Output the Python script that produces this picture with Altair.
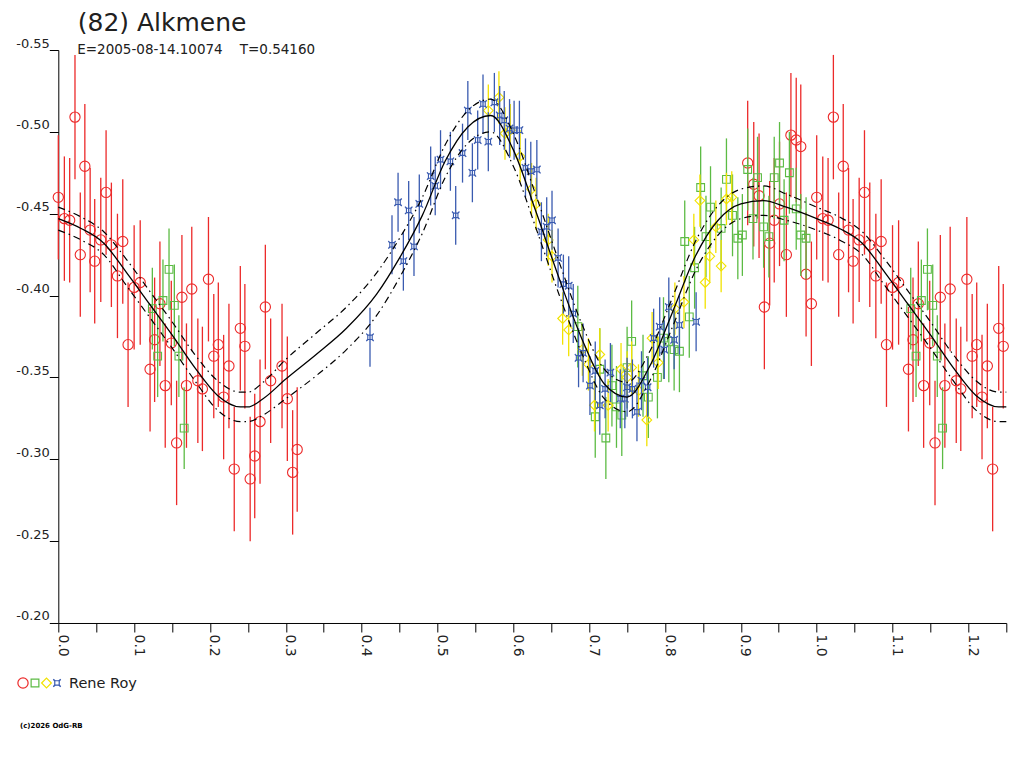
import altair as alt
import pandas as pd

title_text = "(82) Alkmene"
subtitle_text = "E=2005-08-14.10074\u00a0\u00a0\u00a0\u00a0T=0.54160"
observer = "Rene Roy"
credit = "(c)2026 OdG-RB"

x_ticks = [0.0, 0.05, 0.1, 0.15, 0.2, 0.25, 0.3, 0.35, 0.4, 0.45, 0.5, 0.55, 0.6,
           0.65, 0.7, 0.75, 0.8, 0.85, 0.9, 0.95, 1.0, 1.05, 1.1, 1.15, 1.2, 1.25]
y_ticks = [-0.55, -0.50, -0.45, -0.40, -0.35, -0.30, -0.25, -0.20]

# red circles
red_phase = [0.000, 0.008, 0.015, 0.022, 0.029, 0.035, 0.042, 0.048, 0.056, 0.063,
             0.070, 0.078, 0.085, 0.092, 0.100, 0.108, 0.121, 0.127, 0.134, 0.141,
             0.149, 0.156, 0.163, 0.169, 0.176, 0.184, 0.190, 0.198, 0.205, 0.211,
             0.218, 0.225, 0.232, 0.240, 0.246, 0.253, 0.259, 0.266, 0.273, 0.280,
             0.295, 0.302, 0.309, 0.315,
             0.909, 0.917, 0.924, 0.931, 0.938, 0.944, 0.951, 0.960, 0.966, 0.973,
             0.979, 0.986, 0.993]
red_mag = [-0.460, -0.447, -0.446, -0.509, -0.425, -0.479, -0.440, -0.421, -0.434, -0.463,
           -0.431, -0.412, -0.433, -0.370, -0.405, -0.408, -0.355, -0.373, -0.395, -0.345,
           -0.371, -0.310, -0.399, -0.345, -0.404, -0.348, -0.343, -0.410, -0.363, -0.370,
           -0.338, -0.357, -0.294, -0.380, -0.369, -0.288, -0.302, -0.323, -0.393, -0.348,
           -0.357, -0.337, -0.292, -0.306,
           -0.481, -0.468, -0.461, -0.393, -0.432, -0.446, -0.456, -0.425, -0.498, -0.495,
           -0.491, -0.413, -0.395]
red_err = [0.038] * len(red_phase)

# green squares
green_phase = [0.124, 0.131, 0.138, 0.146, 0.153, 0.159, 0.166,
               0.685, 0.708, 0.714, 0.722, 0.730, 0.736, 0.743, 0.750, 0.756, 0.771,
               0.778, 0.790, 0.798, 0.805, 0.812, 0.819, 0.826, 0.832, 0.839, 0.847,
               0.854, 0.860, 0.874, 0.881, 0.889, 0.896, 0.902, 0.909, 0.916, 0.922,
               0.930, 0.937, 0.944, 0.951, 0.957, 0.964, 0.973, 0.979, 0.986]
green_mag = [-0.392, -0.363, -0.397, -0.416, -0.394, -0.363, -0.319,
             -0.381, -0.326, -0.355, -0.313, -0.345, -0.332, -0.327, -0.356, -0.372, -0.351,
             -0.338, -0.350, -0.374, -0.372, -0.367, -0.366, -0.433, -0.387, -0.417, -0.466,
             -0.436, -0.454, -0.441, -0.471, -0.449, -0.435, -0.437, -0.477, -0.447, -0.472,
             -0.442, -0.436, -0.472, -0.481, -0.446, -0.475, -0.453, -0.437, -0.435]
green_err = [0.025] * len(green_phase)

# yellow diamonds
yellow_phase = [0.567, 0.581, 0.589, 0.596, 0.609, 0.624, 0.630, 0.646, 0.651, 0.665,
                0.673, 0.691, 0.699, 0.707, 0.714, 0.725, 0.742, 0.750, 0.756, 0.765,
                0.776, 0.783, 0.791, 0.813, 0.825, 0.838, 0.846, 0.853, 0.859, 0.867,
                0.874, 0.881, 0.888]
yellow_mag = [-0.513, -0.521, -0.499, -0.501, -0.485, -0.465, -0.456, -0.434, -0.424, -0.386,
              -0.379, -0.367, -0.358, -0.333, -0.364, -0.333, -0.355, -0.350, -0.356, -0.342,
              -0.324, -0.374, -0.359, -0.392, -0.396, -0.434, -0.458, -0.408, -0.424, -0.442,
              -0.418, -0.459, -0.460]
yellow_err = [0.016] * len(yellow_phase)

# blue stars
blue_phase = [0.411, 0.440, 0.448, 0.455, 0.462, 0.469, 0.476, 0.491, 0.497, 0.504,
              0.517, 0.524, 0.533, 0.540, 0.546, 0.553, 0.560, 0.567, 0.575, 0.582,
              0.588, 0.595, 0.601, 0.608, 0.616, 0.623, 0.631, 0.637, 0.644, 0.651,
              0.659, 0.666, 0.673, 0.679, 0.686, 0.692, 0.701, 0.708, 0.714, 0.721,
              0.728, 0.741, 0.747, 0.750, 0.757, 0.763, 0.769, 0.777, 0.785, 0.793,
              0.799, 0.805, 0.812, 0.819, 0.841]
blue_mag = [-0.3745, -0.431, -0.457, -0.421, -0.452, -0.430, -0.456, -0.473, -0.467, -0.483,
            -0.482, -0.449, -0.487, -0.513, -0.475, -0.495, -0.517, -0.494, -0.518, -0.510,
            -0.507, -0.502, -0.501, -0.501, -0.478, -0.476, -0.477, -0.439, -0.442, -0.446,
            -0.423, -0.407, -0.406, -0.389, -0.362, -0.365, -0.345, -0.354, -0.333, -0.343,
            -0.353, -0.337, -0.337, -0.344, -0.343, -0.329, -0.348, -0.344, -0.374, -0.381,
            -0.367, -0.393, -0.373, -0.382, -0.384]
blue_err = [0.018] * len(blue_phase)

# fitted curve and its uncertainty band (half-width)
fit_phase = [0.00, 0.03, 0.06, 0.09, 0.12, 0.15, 0.18, 0.21, 0.24, 0.25,
             0.27, 0.30, 0.34, 0.38, 0.42, 0.45, 0.48, 0.51, 0.54, 0.57,
             0.60, 0.63, 0.66, 0.69, 0.72, 0.75, 0.78, 0.81, 0.84, 0.87,
             0.90, 0.93, 0.96]
fit_mag = [-0.447, -0.441, -0.432, -0.414, -0.395, -0.376, -0.356, -0.339, -0.332, -0.332,
           -0.337, -0.349, -0.364, -0.380, -0.401, -0.423, -0.449, -0.482, -0.503, -0.510,
           -0.489, -0.451, -0.411, -0.374, -0.346, -0.338, -0.357, -0.390, -0.424, -0.446,
           -0.456, -0.458, -0.454]
fit_band = [0.007, 0.007, 0.007, 0.008, 0.008, 0.008, 0.008, 0.009, 0.009, 0.009,
            0.010, 0.012, 0.013, 0.013, 0.013, 0.012, 0.011, 0.010, 0.010, 0.010,
            0.010, 0.010, 0.010, 0.009, 0.009, 0.009, 0.009, 0.009, 0.009, 0.009,
            0.009, 0.009, 0.008]

series_names = ["red", "green", "yellow", "blue"]
series_colors = ["#EC2A2A", "#5CBB44", "#F2E200", "#3A5BB0"]
blue_shape = ("M-1,-1 L-0.5,-0.6 L0.5,-0.6 L1,-1 L0.6,-0.5 L0.6,0.5 L1,1 "
              "L0.5,0.6 L-0.5,0.6 L-1,1 L-0.6,0.5 L-0.6,-0.5 Z")
series_shapes = ["circle", "square", "diamond", blue_shape]
series_sizes = [105, 60, 95, 55]

FONT = "DejaVu Sans"


def wrap_phase(df):
    extra = df[df["phase"] + 1 <= 1.25].copy()
    extra["phase"] = extra["phase"] + 1
    return pd.concat([df, extra], ignore_index=True)


def frame(phases, mags, errs):
    df = pd.DataFrame({"phase": phases, "mag": mags, "err": errs})
    df = wrap_phase(df)
    df["lo"] = df["mag"] - df["err"]
    df["hi"] = df["mag"] + df["err"]
    return df


frames = [frame(red_phase, red_mag, red_err),
          frame(green_phase, green_mag, green_err),
          frame(yellow_phase, yellow_mag, yellow_err),
          frame(blue_phase, blue_mag, blue_err)]

curve = pd.DataFrame({"phase": fit_phase, "fit": fit_mag, "band": fit_band})
curve = wrap_phase(curve).sort_values("phase").reset_index(drop=True)
curve["upper"] = curve["fit"] - curve["band"]
curve["lower"] = curve["fit"] + curve["band"]

x_scale = alt.Scale(domain=[0, 1.25], nice=False, zero=False)
y_scale = alt.Scale(domain=[-0.55, -0.20], nice=False, zero=False, reverse=True)

x_axis = alt.Axis(values=x_ticks, title=None, grid=False,
                  labelExpr="abs(datum.value*10 - round(datum.value*10)) < 0.001 ? format(datum.value, '.1f') : ''",
                  labelAngle=90, labelAlign="left", labelBaseline="alphabetic",
                  tickSize=9, labelPadding=2, labelFlush=False, labelOverlap=False,
                  labelFont=FONT, labelFontSize=14, labelColor="#222222",
                  domainColor="black", tickColor="black")
y_axis = alt.Axis(values=y_ticks, title=None, grid=False,
                  labelExpr="'-' + format(abs(datum.value), '.2f')",
                  labelAlign="right", labelBaseline="bottom",
                  tickSize=9, labelPadding=0, labelFlush=False, labelOverlap=False,
                  labelFont=FONT, labelFontSize=13, labelColor="#222222",
                  domainColor="black", tickColor="black")

X = alt.X("phase:Q", scale=x_scale, axis=x_axis)

layers = []
for df, color, shape, size in zip(frames, series_colors, series_shapes, series_sizes):
    base = alt.Chart(df)
    layers.append(base.mark_rule(color=color, strokeWidth=1.3).encode(
        x=X,
        y=alt.Y("lo:Q", scale=y_scale, axis=y_axis),
        y2="hi:Q"))
    layers.append(base.mark_point(color=color, shape=shape, size=size, filled=False,
                                  strokeWidth=1.1, opacity=1).encode(
        x=X,
        y=alt.Y("mag:Q", scale=y_scale, axis=y_axis)))

cbase = alt.Chart(curve)
layers.append(cbase.mark_line(color="black", strokeWidth=1.3, interpolate="monotone").encode(
    x=X, y=alt.Y("fit:Q", scale=y_scale, axis=y_axis)))
layers.append(cbase.mark_line(color="black", strokeWidth=1.2, interpolate="monotone",
                              strokeDash=[7, 4, 1.5, 4]).encode(
    x=X, y=alt.Y("upper:Q", scale=y_scale, axis=y_axis)))
layers.append(cbase.mark_line(color="black", strokeWidth=1.2, interpolate="monotone",
                              strokeDash=[7, 4, 1.5, 4]).encode(
    x=X, y=alt.Y("lower:Q", scale=y_scale, axis=y_axis)))

ann = alt.Chart(pd.DataFrame({"k": [0]}))
layers.append(ann.mark_text(text=title_text, font=FONT, fontSize=25, color="#202020",
                            align="left", baseline="alphabetic").encode(
    x=alt.value(19.5), y=alt.value(-18.7)))
layers.append(ann.mark_text(text=subtitle_text, font=FONT, fontSize=13.5, color="#202020",
                            align="left", baseline="alphabetic").encode(
    x=alt.value(19), y=alt.value(4)))
layers.append(ann.mark_text(text=observer, font=FONT, fontSize=14.5, color="#202020",
                            align="left", baseline="alphabetic").encode(
    x=alt.value(10.7), y=alt.value(638)))
layers.append(ann.mark_text(text=credit, font=FONT, fontSize=7, fontWeight="bold",
                            color="#000000", align="left", baseline="alphabetic").encode(
    x=alt.value(-38.3), y=alt.value(678)))
legend_x = [-35.3, -23.3, -11.8, -1.3]
for lx, color, shape, size in zip(legend_x, series_colors, series_shapes, series_sizes):
    layers.append(ann.mark_point(color=color, shape=shape, size=size, filled=False,
                                 strokeWidth=1.2, opacity=1).encode(
        x=alt.value(lx), y=alt.value(633)))

chart = alt.layer(*layers).properties(
    width=948, height=573,
    padding={"left": 50.3, "top": 42, "right": 8, "bottom": 110},
    autosize=alt.AutoSizeParams(type="none"),
    background="white",
).configure_view(stroke=None).configure_axis(domainWidth=1, tickWidth=1)

chart.save("out.html", embed_options={"renderer": "svg", "actions": False})
